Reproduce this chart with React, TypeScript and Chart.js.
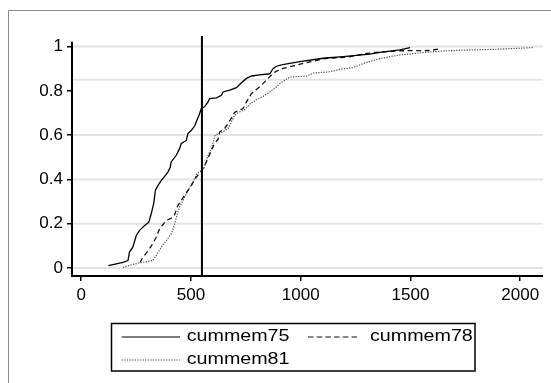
import React, { useEffect, useRef } from "react";
import { Chart, registerables } from "chart.js";

Chart.register(...registerables);

const SERIES_NAMES = ["cummem75", "cummem78", "cummem81"];

const X75 = [124, 190, 213, 220, 235, 251, 266, 289, 308, 319, 330, 338, 350, 365, 372, 395, 406, 410, 433, 448, 456, 479, 486, 502, 517, 527, 537, 547, 562, 578, 585, 616, 639, 646, 677, 707, 730, 753, 776, 813, 859, 874, 890, 912, 950, 1011, 1102, 1193, 1315, 1361, 1452, 1498];
const Y75 = [0.011, 0.026, 0.034, 0.072, 0.094, 0.147, 0.17, 0.192, 0.207, 0.245, 0.29, 0.351, 0.373, 0.396, 0.404, 0.433, 0.456, 0.479, 0.509, 0.539, 0.562, 0.576, 0.607, 0.622, 0.641, 0.667, 0.69, 0.72, 0.728, 0.75, 0.765, 0.768, 0.78, 0.795, 0.803, 0.814, 0.836, 0.856, 0.867, 0.872, 0.877, 0.9, 0.911, 0.917, 0.924, 0.934, 0.947, 0.954, 0.966, 0.974, 0.985, 0.995];

const X78 = [268, 278, 299, 320, 342, 357, 388, 411, 425, 441, 471, 502, 525, 540, 550, 570, 593, 608, 623, 631, 654, 677, 699, 737, 753, 776, 813, 844, 874, 890, 920, 981, 1042, 1118, 1209, 1300, 1376, 1437, 1470, 1589, 1640];
const Y78 = [0.025, 0.044, 0.071, 0.1, 0.139, 0.177, 0.215, 0.225, 0.24, 0.283, 0.328, 0.373, 0.411, 0.429, 0.44, 0.479, 0.53, 0.565, 0.58, 0.615, 0.63, 0.665, 0.703, 0.72, 0.75, 0.788, 0.818, 0.848, 0.879, 0.889, 0.901, 0.916, 0.931, 0.947, 0.951, 0.969, 0.976, 0.98, 0.981, 0.982, 0.99];

const X81 = [190, 235, 269, 327, 342, 365, 388, 411, 426, 436, 448, 471, 491, 509, 527, 548, 562, 578, 593, 610, 646, 669, 684, 699, 722, 745, 768, 798, 829, 859, 890, 905, 950, 1026, 1057, 1133, 1178, 1239, 1290, 1361, 1452, 1550, 1650, 1756, 1900, 2060];
const Y81 = [0.003, 0.016, 0.024, 0.034, 0.057, 0.094, 0.124, 0.155, 0.2, 0.238, 0.275, 0.32, 0.358, 0.388, 0.426, 0.44, 0.456, 0.509, 0.539, 0.6, 0.615, 0.63, 0.66, 0.69, 0.705, 0.715, 0.74, 0.76, 0.775, 0.795, 0.818, 0.833, 0.862, 0.866, 0.88, 0.886, 0.897, 0.905, 0.925, 0.946, 0.962, 0.972, 0.98, 0.984, 0.988, 0.995];

const X_TICKS = [0, 500, 1000, 1500, 2000];
const Y_TICKS = [0, 0.2, 0.4, 0.6, 0.8, 1];
const GRID_VALUES = [0, 0.2, 0.4, 0.6, 0.85, 1];
const X_MIN = -42;
const X_MAX = 2104;
const Y_MIN = -0.036;
const Y_MAX = 1.0475;
const VLINE_X = 550;

const FONT = "'Liberation Sans', Arial, sans-serif";

const STYLES = [
  { color: "#000000", width: 1.3, dash: [] as number[] },
  { color: "#111111", width: 1.3, dash: [5, 3.5] },
  { color: "#555555", width: 1.2, dash: [1.3, 1.3] },
];

function pts(xs: number[], ys: number[]) {
  return xs.map((x, i) => ({ x, y: ys[i] }));
}

const decorPlugin = {
  id: "decor",
  beforeDraw(chart: any) {
    const ctx = chart.ctx;
    ctx.save();
    ctx.fillStyle = "#ffffff";
    ctx.fillRect(0, 0, chart.width, chart.height);
    ctx.strokeStyle = "#8a8a8a";
    ctx.lineWidth = 1;
    ctx.beginPath();
    ctx.moveTo(8.5, chart.height);
    ctx.lineTo(8.5, 10.5);
    ctx.lineTo(chart.width, 10.5);
    ctx.stroke();
    ctx.restore();
  },
  beforeDatasetsDraw(chart: any) {
    const ctx = chart.ctx;
    const { left, right } = chart.chartArea;
    const ys = chart.scales.y;
    ctx.save();
    ctx.strokeStyle = "#e4e4e4";
    ctx.lineWidth = 2;
    GRID_VALUES.forEach((v) => {
      const p = ys.getPixelForValue(v);
      ctx.beginPath();
      ctx.moveTo(left, p);
      ctx.lineTo(right, p);
      ctx.stroke();
    });
    ctx.restore();
  },
  afterDraw(chart: any) {
    const ctx = chart.ctx;
    const { left, right, bottom } = chart.chartArea;
    const ys = chart.scales.y;
    ctx.save();
    // axes
    ctx.strokeStyle = "#000";
    ctx.lineWidth = 2;
    ctx.beginPath();
    ctx.moveTo(left, ys.getPixelForValue(1.022));
    ctx.lineTo(left, bottom);
    ctx.lineTo(right, bottom);
    ctx.stroke();

    // legend
    ctx.lineWidth = 1.5;
    ctx.setLineDash([]);
    ctx.strokeRect(111.5, 323.5, 363.5, 47.5);
    const entries = [
      { x0: 121.7, x1: 180, tx: 186.7, y: 337 },
      { x0: 308, x1: 360, tx: 370, y: 337 },
      { x0: 121.7, x1: 180, tx: 186.7, y: 360 },
    ];
    entries.forEach((e, i) => {
      const st = STYLES[i];
      ctx.strokeStyle = st.color;
      ctx.lineWidth = i === 1 ? 1.2 : 1.1;
      ctx.setLineDash(i === 1 ? [5.5, 3.2] : st.dash);
      ctx.beginPath();
      ctx.moveTo(e.x0, e.y);
      ctx.lineTo(e.x1, e.y);
      ctx.stroke();
      ctx.setLineDash([]);
      ctx.save();
      ctx.translate(e.tx, e.y);
      ctx.scale(1.23, 1);
      ctx.fillStyle = "#000";
      ctx.font = `16px ${FONT}`;
      ctx.textBaseline = "middle";
      ctx.textAlign = "left";
      ctx.fillText(SERIES_NAMES[i], 0, 0);
      ctx.restore();
    });
    ctx.restore();
  },
};

export default function App() {
  const ref = useRef<HTMLCanvasElement | null>(null);

  useEffect(() => {
    if (!ref.current) return;
    const series = [
      pts(X75, Y75),
      pts(X78, Y78),
      pts(X81, Y81),
    ];
    const datasets: any[] = [
      {
        label: "vline",
        data: [
          { x: VLINE_X, y: Y_MIN },
          { x: VLINE_X, y: Y_MAX },
        ],
        borderColor: "#000",
        borderWidth: 2,
        pointRadius: 0,
        fill: false,
      },
      ...series.map((d, i) => ({
        label: SERIES_NAMES[i],
        data: d,
        borderColor: STYLES[i].color,
        borderWidth: STYLES[i].width,
        borderDash: STYLES[i].dash,
        pointRadius: 0,
        tension: 0,
        fill: false,
      })),
    ];

    const chart = new Chart(ref.current, {
      type: "line",
      data: { datasets },
      plugins: [decorPlugin],
      options: {
        animation: false,
        responsive: true,
        maintainAspectRatio: false,
        parsing: false as any,
        normalized: true,
        layout: { padding: { left: 0, right: 8, top: 36, bottom: 77 } },
        plugins: {
          legend: { display: false },
          tooltip: { enabled: false },
          title: { display: false },
        },
        scales: {
          x: {
            type: "linear",
            min: X_MIN,
            max: X_MAX,
            afterBuildTicks: (s: any) => {
              s.ticks = X_TICKS.map((v) => ({ value: v }));
            },
            afterFit: (s: any) => {
              s.height = 30;
            },
            border: { display: false },
            grid: {
              drawOnChartArea: false,
              drawTicks: true,
              tickLength: 5,
              color: "#000",
              lineWidth: 1.5,
            },
            ticks: {
              padding: 4,
              color: "#000",
              font: { family: FONT, size: 17 },
              maxRotation: 0,
              autoSkip: false,
              callback: (v: any) => String(v),
            },
          },
          y: {
            type: "linear",
            min: Y_MIN,
            max: Y_MAX,
            afterBuildTicks: (s: any) => {
              s.ticks = Y_TICKS.map((v) => ({ value: v }));
            },
            afterFit: (s: any) => {
              s.width = 72;
            },
            border: { display: false },
            grid: {
              drawOnChartArea: false,
              drawTicks: true,
              tickLength: 5,
              color: "#000",
              lineWidth: 1.5,
            },
            ticks: {
              padding: 4,
              color: "#000",
              font: { family: FONT, size: 17 },
              autoSkip: false,
              callback: (v: any) => String(v),
            },
          },
        },
      },
    });
    return () => chart.destroy();
  }, []);

  return (
    <div style={{ position: "fixed", left: 0, top: 0, width: 551, height: 383, background: "#fff" }}>
      <canvas ref={ref} />
    </div>
  );
}
